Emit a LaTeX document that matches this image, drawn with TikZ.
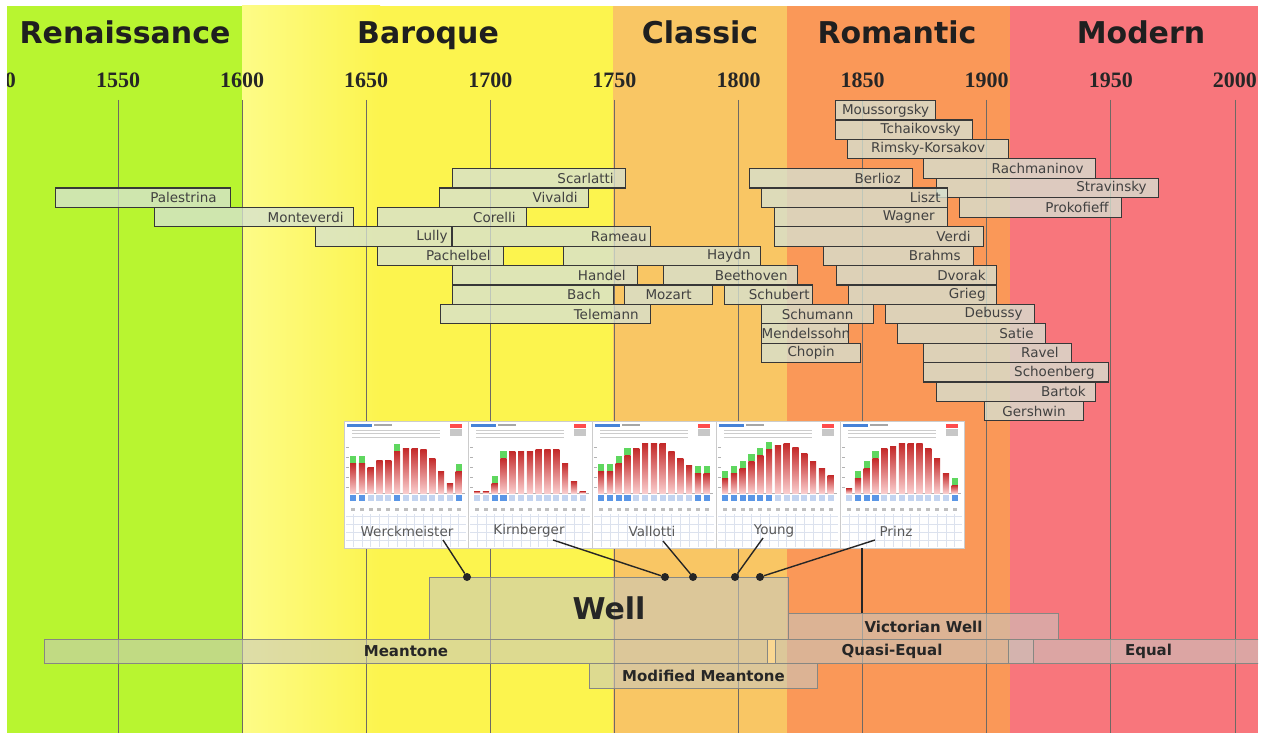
\documentclass[tikz,border=0pt]{standalone}
\usepackage{fontspec}
\setmainfont{DejaVu Sans}
\newfontfamily\yearfont{Liberation Serif}
\usetikzlibrary{calc}
\definecolor{renc}{RGB}{184,245,48}
\definecolor{barl}{RGB}{253,252,135}
\definecolor{barr}{RGB}{252,244,78}
\definecolor{clac}{RGB}{249,198,100}
\definecolor{romc}{RGB}{250,152,88}
\definecolor{modc}{RGB}{248,118,124}
\definecolor{gridc}{RGB}{110,105,100}
\definecolor{cfill}{RGB}{214,226,210}
\definecolor{cedge}{RGB}{55,55,55}
\definecolor{ctext}{RGB}{65,65,65}
\definecolor{tfill}{RGB}{200,200,192}
\definecolor{tedge}{RGB}{135,135,130}
\definecolor{hdrblue}{RGB}{70,130,215}
\definecolor{barred}{RGB}{195,40,40}
\definecolor{barpink}{RGB}{250,205,205}
\definecolor{greenm}{RGB}{95,215,95}
\definecolor{bluem}{RGB}{90,150,230}
\definecolor{bluel}{RGB}{195,212,240}
\definecolor{gridlight}{RGB}{220,226,238}
\tikzset{
  period/.style={font=\fontsize{30}{30}\selectfont\bfseries, text=black!88, inner sep=0pt, anchor=base},
  yearlab/.style={font=\yearfont\fontsize{22}{22}\selectfont\bfseries, text=black!85, inner sep=0pt, anchor=base},
  gridline/.style={draw=gridc, line width=0.8pt},
  cbarbox/.style={draw=cedge, line width=1.2pt, fill=cfill, fill opacity=0.78, text opacity=1,
    text=ctext, font=\fontsize{13.5}{14}\selectfont, inner ysep=0pt, minimum height=19.4pt, anchor=north west},
  tbar/.style={draw=tedge, line width=1pt, fill=tfill, fill opacity=0.58, text opacity=1,
    text=black!85, font=\fontsize{15}{15}\selectfont\bfseries, inner sep=0pt, anchor=north west},
  conn/.style={draw=black!85, line width=1.4pt},
  dotnode/.style={circle, fill=black!85, inner sep=0pt, minimum size=8pt},
  tlabel/.style={text=black!65, font=\fontsize{13.5}{14}\selectfont, inner sep=0pt},
  pframe/.style={draw=black!20, line width=0.6pt, fill=white, minimum width=124pt, minimum height=127pt, inner sep=0pt},
}
\newcommand\cbar[7]{%
  \pgfmathsetmacro\cbW{#3-#2}%
  \pgfmathsetmacro\cbTW{#3-#2-2*#7}%
  \pgfmathsetmacro\cbY{168+19.4*#4}%
  \node[cbarbox, minimum width=\cbW pt, text width=\cbTW pt, inner xsep=#7pt, align=#6] (#1) at (#2,\cbY) {#5};%
}
\newcommand\tpanel[3]{%
  \node[pframe, anchor=north west] (#1) at (#2,421) {};
  \begin{scope}[shift={(#2,0)}]
    \fill[hdrblue] (3,423.5) rectangle (28,426.5);
    \fill[black!35] (30,424) rectangle (48,426);
    \fill[red!70] (106,423.5) rectangle (118,428);
    \fill[black!22] (106,429) rectangle (118,436);
    \foreach \yy in {430,433.5,437} \draw[black!20, line width=0.7pt] (8,\yy) -- (96,\yy);
    \foreach \yy in {447,457,467,477,487} \draw[black!30, line width=0.6pt] (2,\yy) -- (5,\yy);
    \draw[black!30, line width=0.5pt] (6,493) -- (121,493);
    \foreach \yy in {516,524,532,540} \draw[gridlight, line width=0.7pt] (2,\yy) -- (122,\yy);
    \foreach \h/\g [count=\i] in {#3} {
      \pgfmathsetmacro\bx{6+(\i-1)*8.8}
      \draw[gridlight, line width=0.7pt] (\bx+3.1,514) -- (\bx+3.1,547);
      \shade[top color=barred, bottom color=barpink] (\bx,493-\h) rectangle ++(6.2,\h);
      \fill[black!25] (\bx+1,508) rectangle ++(4,3);
      \ifnum\g=1
        \fill[greenm] (\bx,493-\h-7) rectangle ++(6.2,7);
        \fill[bluem] (\bx,495) rectangle ++(6.2,6);
      \else
        \fill[bluel] (\bx,495) rectangle ++(6.2,6);
      \fi
    }
  \end{scope}
}
\begin{document}
\begin{tikzpicture}[x=1pt,y=-1pt]
\useasboundingbox (0,0) rectangle (1272,733);
\begin{scope}
\clip (7,6) rectangle (1258,733);
% period bands
\fill[renc] (7,6) rectangle (242,733);
\fill[barr] (242,6) rectangle (613,733);
\shade[left color=barl, right color=barr] (242,6) rectangle (380,733);
\fill[clac] (613,6) rectangle (787,733);
\fill[romc] (787,6) rectangle (1010,733);
\fill[modc] (1010,6) rectangle (1258,733);
% grid
\foreach \k in {0,...,9} \draw[gridline] ({118+124.1*\k},100) -- ({118+124.1*\k},733);
% headers
\node[period] (hren) at (125,44) {Renaissance};
\node[period] (hbar) at (428,44) {Baroque};
\node[period] (hcla) at (700,44) {Classic};
\node[period] (hrom) at (897,44) {Romantic};
\node[period] (hmod) at (1141,44) {Modern};
% years
\foreach \yr [count=\k from -1] in {1500,1550,1600,1650,1700,1750,1800,1850,1900,1950,2000}
  \node[yearlab] (y\yr) at ({118+124.1*\k},88) {\yr};
% composers
\cbar{moussorgsky}{835}{935}{-3.5}{Moussorgsky}{center}{0}
\cbar{tchaikovsky}{835}{972}{-2.5}{Tchaikovsky}{right}{12}
\cbar{rimsky}{847}{1008}{-1.5}{Rimsky-Korsakov}{center}{0}
\cbar{rachmaninov}{923}{1095}{-0.5}{Rachmaninov}{right}{12}
\cbar{scarlatti}{452}{625}{0}{Scarlatti}{right}{12}
\cbar{berlioz}{749}{912}{0}{Berlioz}{right}{12}
\cbar{stravinsky}{936}{1158}{0.5}{Stravinsky}{right}{12}
\cbar{palestrina}{55}{230}{1}{Palestrina}{right}{14}
\cbar{vivaldi}{439}{588}{1}{Vivaldi}{right}{11}
\cbar{liszt}{761}{947}{1}{Liszt}{right}{7}
\cbar{prokofieff}{959}{1121}{1.5}{Prokofieff}{right}{13}
\cbar{monteverdi}{154}{353}{2}{Monteverdi}{right}{10}
\cbar{corelli}{377}{526}{2}{Corelli}{right}{11}
\cbar{wagner}{774}{947}{2}{Wagner}{right}{13}
\cbar{lully}{315}{451}{3}{Lully}{right}{4}
\cbar{rameau}{452}{650}{3}{Rameau}{right}{4}
\cbar{verdi}{774}{983}{3}{Verdi}{right}{13}
\cbar{pachelbel}{377}{503}{4}{Pachelbel}{right}{13}
\cbar{haydn}{563}{760}{4}{Haydn}{right}{10}
\cbar{brahms}{823}{973}{4}{Brahms}{right}{13}
\cbar{handel}{452}{637}{5}{Handel}{right}{12}
\cbar{beethoven}{663}{797}{5}{Beethoven}{right}{10}
\cbar{dvorak}{836}{996}{5}{Dvorak}{right}{11}
\cbar{bach}{452}{613}{6}{Bach}{right}{13}
\cbar{mozart}{624}{712}{6}{Mozart}{center}{0}
\cbar{schubert}{724}{812}{6}{Schubert}{right}{3}
\cbar{grieg}{848}{996}{6}{Grieg}{right}{11}
\cbar{telemann}{440}{650}{7}{Telemann}{right}{12}
\cbar{schumann}{761}{873}{7}{Schumann}{center}{0}
\cbar{debussy}{885}{1034}{7}{Debussy}{right}{12}
\cbar{mendelssohn}{761}{848}{8}{Mendelssohn}{center}{0}
\cbar{satie}{897}{1045}{8}{Satie}{right}{12}
\cbar{chopin}{761}{860}{9}{Chopin}{center}{0}
\cbar{ravel}{923}{1071}{9}{Ravel}{right}{13}
\cbar{schoenberg}{923}{1108}{10}{Schoenberg}{right}{14}
\cbar{bartok}{936}{1095}{11}{Bartok}{right}{10}
\cbar{gershwin}{984}{1083}{12}{Gershwin}{center}{0}
% temperament bars
\node[tbar, minimum width=359pt, minimum height=62pt, font=\fontsize{30}{30}\selectfont\bfseries] (well) at (429,577) {Well};
\node[tbar, minimum width=723pt, minimum height=24pt] (meantone) at (44,639) {Meantone};
\node[tbar, fill=white, fill opacity=0.3, minimum width=8pt, minimum height=24pt] (mqjoin) at (767,639) {};
\node[tbar, minimum width=233pt, minimum height=24pt] (quasi) at (775,639) {Quasi-Equal};
\node[tbar, fill=tfill, fill opacity=0.75, minimum width=25pt, minimum height=24pt] (qejoin) at (1008,639) {};
\node[tbar, minimum width=230pt, minimum height=24pt] (equal) at (1033,639) {Equal};
\node[tbar, minimum width=270pt, minimum height=26pt] (victorian) at (788,613) {Victorian Well};
\node[tbar, minimum width=228pt, minimum height=25pt] (modmean) at (589,663) {Modified Meantone};
% temperament screenshots
\tpanel{pw}{344}{30/1,30/1,26/0,33/0,33/0,42/1,45/0,45/0,44/0,35/0,22/0,10/0,22/1}
\tpanel{pk}{468}{2/0,2/0,10/1,35/1,42/0,42/0,42/0,44/0,44/0,44/0,30/0,12/0,2/0}
\tpanel{pv}{592}{22/1,22/1,30/1,38/1,45/0,50/0,50/0,50/0,42/0,35/0,28/0,20/1,20/1}
\tpanel{py}{716}{15/1,20/1,25/1,32/1,38/1,44/1,48/0,50/0,46/0,40/0,32/0,25/0,18/0}
\tpanel{pp}{840}{5/0,15/1,25/1,35/1,45/0,47/0,50/0,50/0,50/0,45/0,35/0,20/0,8/1}
\node[tlabel] (lw) at (407,531) {Werckmeister};
\node[tlabel] (lk) at (529,531) {Kirnberger};
\node[tlabel] (lv) at (652,531) {Vallotti};
\node[tlabel] (ly) at (774,531) {Young};
\node[tlabel] (lp) at (896,531) {Prinz};
% connectors
\node[dotnode] (dw) at (467,577) {};
\node[dotnode] (dk) at (665,577) {};
\node[dotnode] (dv) at (693,577) {};
\node[dotnode] (dy) at (735,577) {};
\node[dotnode] (dp) at (760,577) {};
\coordinate (sw) at (443,540);
\coordinate (sk) at (553,540);
\coordinate (sv) at (663,541);
\coordinate (sy) at (763,538);
\coordinate (sp) at (875,540);
\coordinate (vtop) at (862,548);
\draw[conn] (sw) -- (dw);
\draw[conn] (sk) -- (dk);
\draw[conn] (sv) -- (dv);
\draw[conn] (sy) -- (dy);
\draw[conn] (sp) -- (dp);
\draw[conn] (vtop) -- (victorian.north -| vtop);
\end{scope}
\end{tikzpicture}
\end{document}
